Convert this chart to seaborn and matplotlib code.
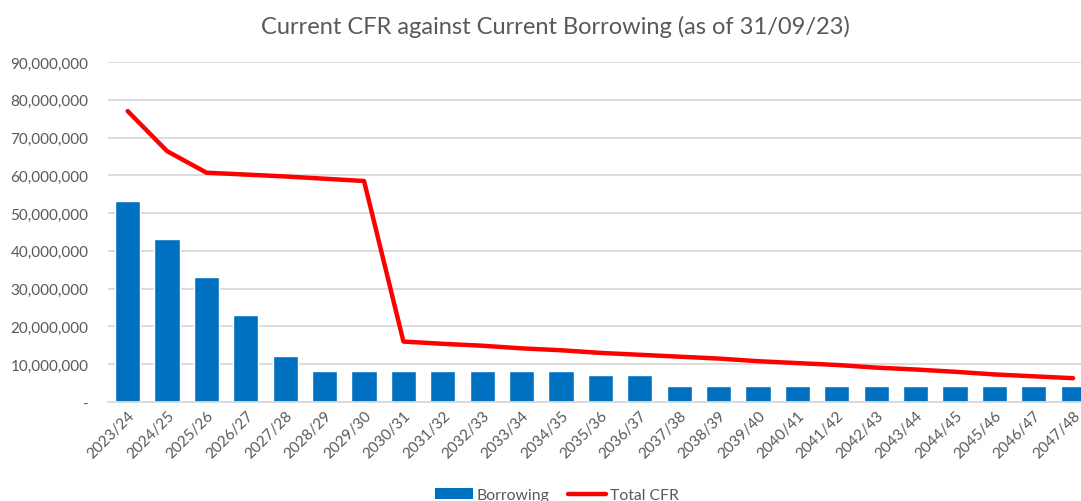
import matplotlib
matplotlib.use("Agg")
import matplotlib.pyplot as plt
import seaborn as sns
import pandas as pd
from matplotlib.ticker import FuncFormatter
from matplotlib.patches import Patch
from matplotlib.lines import Line2D

years = [f"{y}/{(y + 1) % 100:02d}" for y in range(2023, 2048)]
borrowing = [53.2, 43.1, 33.2, 23.1, 12.2, 8.2, 8.2, 8.2, 8.2, 8.2, 8.2, 8.2,
             7.2, 7.2, 4.3, 4.3, 4.3, 4.3, 4.3, 4.3, 4.3, 4.3, 4.3, 4.3, 4.3]
total_cfr = [77.0, 66.4, 60.7, 60.2, 59.7, 59.1, 58.5, 16.0, 15.4, 14.9, 14.2,
             13.7, 13.0, 12.5, 12.0, 11.5, 10.8, 10.3, 9.8, 9.1, 8.6, 8.0, 7.3, 6.8, 6.3]
scale = 1_000_000

df = pd.DataFrame({"Year": years,
                   "Borrowing": [v * scale for v in borrowing],
                   "Total CFR": [v * scale for v in total_cfr]})

sns.set_theme(style="white")
plt.rcParams["font.family"] = ["Lato", "DejaVu Sans"]

W, H = 1081, 502
fig = plt.figure(figsize=(W / 100, H / 100), dpi=100)
ax = fig.add_axes([108 / W, (H - 403) / H, (1081 - 108) / W, (403 - 63) / H])

sns.barplot(data=df, x="Year", y="Borrowing", color="#0070C0", width=0.64,
            saturation=1, ax=ax, zorder=2)
sns.lineplot(data=df, x="Year", y="Total CFR", color="#FF0000", linewidth=3.2,
             ax=ax, sort=False, zorder=3)

ax.set_ylim(0, 90 * scale)
ax.set_xlim(-0.5, 24.2)
ax.set_yticks([i * 10 * scale for i in range(10)])
ax.yaxis.set_major_formatter(FuncFormatter(lambda v, p: "-" if v == 0 else f"{int(v):,}"))
ax.grid(axis="y", color="#D9D9D9", linewidth=1.3, zorder=0)
ax.set_axisbelow(True)
for s in ["top", "right", "left"]:
    ax.spines[s].set_visible(False)
ax.spines["bottom"].set_color("#D9D9D9")
ax.spines["bottom"].set_linewidth(1.3)
ax.set_xlabel("")
ax.set_ylabel("")
ax.tick_params(axis="y", colors="#595959", labelsize=11, length=0, pad=14)
ax.tick_params(axis="x", colors="#595959", labelsize=11, length=0, pad=4)
for lab in ax.get_xticklabels():
    lab.set_rotation(45)
    lab.set_ha("right")
    lab.set_rotation_mode("anchor")

fig.text(555 / W, 1 - 27 / H, "Current CFR against Current Borrowing (as of 31/09/23)",
         ha="center", va="center", fontsize=17, color="#595959")

handles = [Patch(facecolor="#0070C0", edgecolor="none", label="Borrowing"),
           Line2D([0], [0], color="#FF0000", linewidth=3.2, label="Total CFR")]
fig.legend(handles=handles, loc="upper center", bbox_to_anchor=(557 / W, 13 / H),
           ncol=2, frameon=False, fontsize=11.3, labelcolor="#595959",
           handlelength=2.4, columnspacing=1.2, handletextpad=0.25, borderpad=0,
           borderaxespad=0)

fig.savefig("out.png", dpi=100)
